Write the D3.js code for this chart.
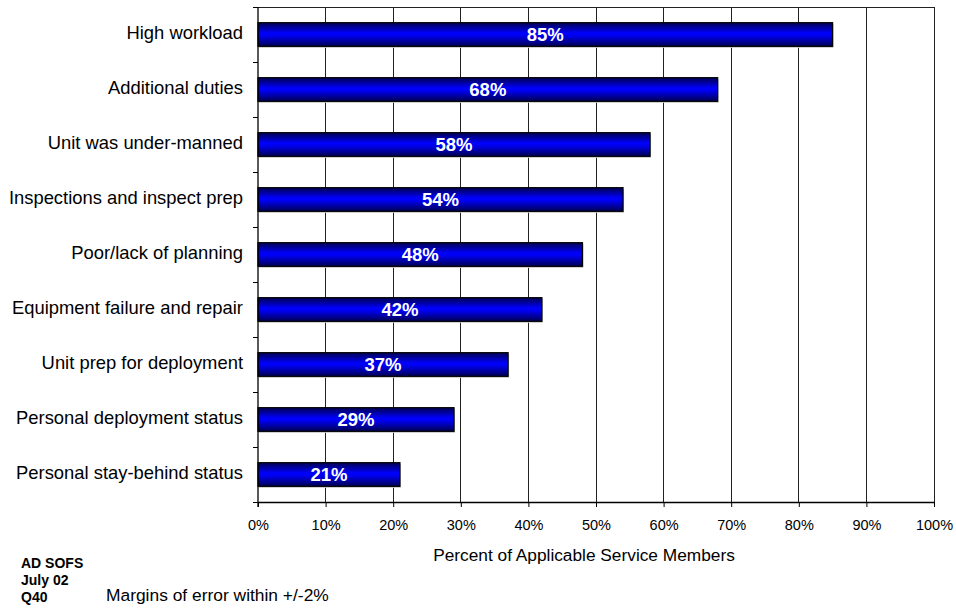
<!DOCTYPE html>
<html>
<head>
<meta charset="utf-8">
<script src="https://cdn.jsdelivr.net/npm/d3@7"></script>
<style>
  body { margin: 0; background: #fff; }
  svg { display: block; font-family: Arial, "Liberation Sans", sans-serif; }
</style>
</head>
<body>
<svg id="chart" width="956" height="608"></svg>
<script>
// Reasons reported, top to bottom
const categories = [
  "High workload",
  "Additional duties",
  "Unit was under-manned",
  "Inspections and inspect prep",
  "Poor/lack of planning",
  "Equipment failure and repair",
  "Unit prep for deployment",
  "Personal deployment status",
  "Personal stay-behind status"
];
const values = [85, 68, 58, 54, 48, 42, 37, 29, 21];
const xTicks = [0, 10, 20, 30, 40, 50, 60, 70, 80, 90, 100];
const xTitle = "Percent of Applicable Service Members";
const sourceLines = ["AD SOFS", "July 02", "Q40"];
const footnote = "Margins of error within +/-2%";

const svg = d3.select("#chart");
const margin = { left: 258, right: 22, top: 7, bottom: 106 };
const W = 956, H = 608;
const x0 = margin.left, x1 = W - margin.right;
const y0 = margin.top, y1 = H - margin.bottom;

const x = d3.scaleLinear().domain([0, 100]).range([x0, x1]);
const y = d3.scaleBand().domain(categories).range([y0, y1]).paddingInner(0.57).paddingOuter(0.285);
const yBand = d3.scaleBand().domain(categories).range([y0, y1]);

// Bar fill: dark edges, bright blue core
const defs = svg.append("defs");
const grad = defs.append("linearGradient").attr("id", "barFill")
  .attr("x1", 0).attr("y1", 0).attr("x2", 0).attr("y2", 1);
grad.append("stop").attr("offset", "0%").attr("stop-color", "#000050");
grad.append("stop").attr("offset", "45%").attr("stop-color", "#0000ff");
grad.append("stop").attr("offset", "55%").attr("stop-color", "#0000f0");
grad.append("stop").attr("offset", "100%").attr("stop-color", "#000050");

// Vertical gridlines
svg.append("g").selectAll("line").data(xTicks.slice(1)).join("line")
  .attr("x1", d => x(d)).attr("x2", d => x(d))
  .attr("y1", y0).attr("y2", y1)
  .attr("stroke", "#222").attr("stroke-width", 1)
  .attr("shape-rendering", "crispEdges");

// Top border
svg.append("line").attr("x1", x0).attr("x2", x1).attr("y1", y0).attr("y2", y0)
  .attr("stroke", "#222").attr("shape-rendering", "crispEdges");

// Bar shadows
svg.append("g").selectAll("rect").data(values).join("rect")
  .attr("x", x(0) + 1)
  .attr("y", (d, i) => y(categories[i]) + 1.5)
  .attr("width", d => x(d) - x(0))
  .attr("height", y.bandwidth())
  .attr("fill", "#c8c8c8");

// Bars
svg.append("g").selectAll("rect").data(values).join("rect")
  .attr("x", x(0))
  .attr("y", (d, i) => y(categories[i]))
  .attr("width", d => x(d) - x(0))
  .attr("height", y.bandwidth())
  .attr("fill", "url(#barFill)")
  .attr("stroke", "#000").attr("stroke-width", 1.2);

// Value labels
svg.append("g").selectAll("text").data(values).join("text")
  .attr("x", d => (x(0) + x(d)) / 2)
  .attr("y", (d, i) => y(categories[i]) + y.bandwidth() / 2)
  .attr("dy", "0.36em")
  .attr("text-anchor", "middle")
  .attr("fill", "#fff").attr("font-weight", "bold").attr("font-size", 18.5)
  .text(d => d + "%");

// X axis
const xAxis = d3.axisBottom(x).tickValues(xTicks).tickFormat(d => d + "%").tickSize(5).tickSizeOuter(0);
const gx = svg.append("g").attr("transform", `translate(0,${y1})`).call(xAxis);
gx.select(".domain").attr("stroke", "#000").attr("stroke-width", 1.3);
gx.selectAll(".tick line").attr("stroke", "#000");
gx.selectAll(".tick text").attr("font-size", 14.5).attr("fill", "#000")
  .attr("font-family", "Arial, 'Liberation Sans', sans-serif").attr("dy", "1.4em");

// Y axis: ticks at band boundaries, labels at band centres
const boundaries = d3.range(categories.length + 1).map(i => y0 + i * yBand.step());
svg.append("line").attr("x1", x0).attr("x2", x0).attr("y1", y0).attr("y2", y1 + 5)
  .attr("stroke", "#000").attr("stroke-width", 1.3);
svg.append("g").selectAll("line").data(boundaries).join("line")
  .attr("x1", x0 - 5).attr("x2", x0).attr("y1", d => d).attr("y2", d => d)
  .attr("stroke", "#000").attr("shape-rendering", "crispEdges");
svg.append("g").selectAll("text").data(categories).join("text")
  .attr("x", x0 - 15)
  .attr("y", d => yBand(d) + yBand.bandwidth() / 2)
  .attr("dy", "0.27em")
  .attr("text-anchor", "end")
  .attr("font-size", 18.4).attr("fill", "#000")
  .text(d => d);

// Axis title
svg.append("text").attr("x", (x0 + x1) / 2 - 12).attr("y", 561)
  .attr("text-anchor", "middle").attr("font-size", 17.3).attr("fill", "#000")
  .text(xTitle);

// Source block
svg.append("g").selectAll("text").data(sourceLines).join("text")
  .attr("x", 21).attr("y", (d, i) => 568 + i * 17)
  .attr("font-size", 14).attr("font-weight", "bold").attr("fill", "#000")
  .text(d => d);

svg.append("text").attr("x", 106).attr("y", 601)
  .attr("font-size", 17.4).attr("fill", "#000")
  .text(footnote);
</script>
</body>
</html>
